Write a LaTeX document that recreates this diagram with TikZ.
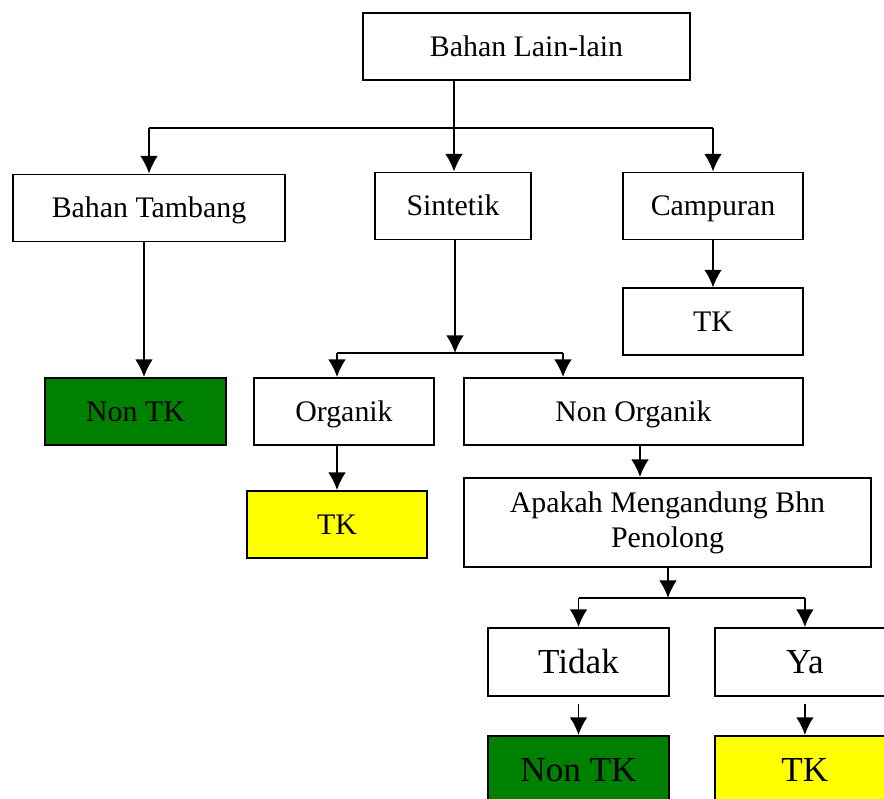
\documentclass[tikz,border=0pt]{standalone}
\usepackage{fontspec}
\setmainfont{Liberation Serif}
\usepackage{xcolor}
\usetikzlibrary{positioning, calc, arrows.meta}

\definecolor{tkgreen}{RGB}{0,128,0}
\definecolor{tkyellow}{RGB}{255,255,0}

\begin{document}
\begin{tikzpicture}[
    x=0.02cm, y=-0.02cm,
    >={Latex[length=10pt,width=10pt]},
    line width=1pt,
    box/.style={draw, line width=1.1pt, inner sep=0pt, minimum height=1.34cm, align=center, text height=11.3pt, text depth=0pt, font=\fontsize{17}{20}\selectfont},
    bigbox/.style={box, minimum height=1.36cm, text height=13.3pt, text depth=0pt, font=\fontsize{20}{24}\selectfont},
    nontk/.style={fill=tkgreen},
    tk/.style={fill=tkyellow}]

    \path[use as bounding box, fill=white] (0,0) rectangle (884,798);
    \clip (0,0) rectangle (884,798);

    \node at (526.5,46.5)[box, minimum width=6.54cm] (lain) {Bahan Lain-lain};

    \node at (149,208)[box, minimum width=5.44cm] (tambang) {Bahan Tambang};
    \node at (453,206)[box, minimum width=3.12cm] (sintetik) {Sintetik};
    \node at (713,206)[box, minimum width=3.6cm] (campuran) {Campuran};
    \node [box, minimum width=3.6cm, below=0.94cm of campuran] (tkcampuran) {TK};

    \node at (135.5,411.5)[box, nontk, minimum width=3.62cm] (nontambang) {Non TK};
    \node at (344,411.5)[box, minimum width=3.6cm] (organik) {Organik};
    \node at (633.5,411.5)[box, minimum width=6.78cm] (nonorganik) {Non Organik};
    \node at (337,524.5)[box, tk, minimum width=3.6cm] (tkorganik) {TK};
    \node at (667.5,522.5)[box, text height=, text depth=, minimum width=8.14cm, minimum height=1.78cm] (penolong) {Apakah Mengandung Bhn\\Penolong};

    \node at (578.5,662)[bigbox, minimum width=3.62cm] (tidak) {Tidak};
    \node [bigbox, minimum width=3.6cm, right=0.88cm of tidak] (ya) {Ya};
    \node [bigbox, nontk, minimum width=3.62cm, below=0.76cm of tidak] (nontidak) {Non TK};
    \node [bigbox, tk, minimum width=3.6cm, below=0.76cm of ya] (tkya) {TK};

    %%% branching points
    \coordinate (split1) at (454,128);
    \coordinate (split2) at (455,353);
    \coordinate (split3) at (563,353);
    \coordinate (split4) at (668,598);

    %%% Relations between boxes
    \draw (split1 |- lain.south) -- (split1);
    \draw (split1 -| tambang.north) -- (split1 -| campuran.north);
    \draw[->] (split1 -| tambang.north) -- (tambang.north);
    \draw[->] (split1) -- (split1 |- sintetik.north);
    \draw[->] (split1 -| campuran.north) -- (campuran.north);

    \draw[->] ([xshift=-0.1cm]tambang.south) -- ([xshift=-0.1cm]tambang.south |- nontambang.north);
    \draw[->] (campuran) -- (tkcampuran);

    \draw[->] (split2 |- sintetik.south) -- (split2);
    \draw (split2 -| tkorganik.north) -- (split3);
    \draw[->] (split2 -| tkorganik.north) -- (tkorganik.north |- organik.north);
    \draw[->] (split3) -- (split3 |- nonorganik.north);

    \draw[->] (tkorganik.north |- organik.south) -- (tkorganik.north);
    \draw[->] ([xshift=0.13cm]nonorganik.south) -- ([xshift=0.13cm]nonorganik.south |- penolong.north);

    \draw[->] (split4 |- penolong.south) -- (split4);
    \draw (split4 -| tidak.north) -- (split4 -| ya.north);
    \draw[->] (split4 -| tidak.north) -- (tidak.north);
    \draw[->] (split4 -| ya.north) -- (ya.north);

    \draw[->, shorten <=4pt] (tidak) -- (nontidak);
    \draw[->, shorten <=4pt] (ya) -- (tkya);

\end{tikzpicture}
\end{document}
